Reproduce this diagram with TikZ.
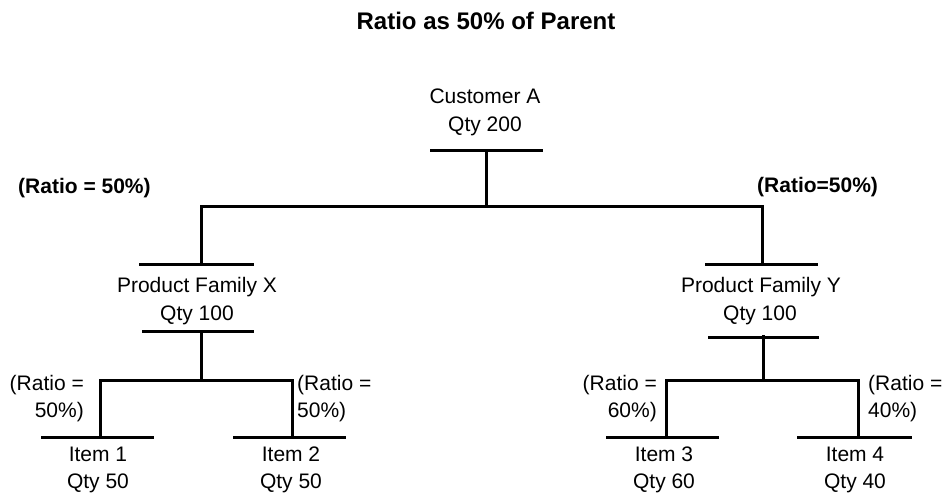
\documentclass[tikz,border=0pt]{standalone}
\usepackage{fontspec}
\setmainfont{Liberation Sans}
\begin{document}
\begin{tikzpicture}[x=1pt,y=-1pt,
  tree/.style={line width=3pt, line join=miter, line cap=butt},
  lbl/.style={inner sep=0pt, anchor=base, font=\fontsize{21}{25}\selectfont},
  ratioL/.style={inner sep=0pt, anchor=base east, font=\fontsize{21}{25}\selectfont},
  ratioR/.style={inner sep=0pt, anchor=base west, font=\fontsize{21}{25}\selectfont},
  ratiobold/.style={inner sep=0pt, anchor=base west, font=\fontsize{21}{25}\selectfont\bfseries},
  heading/.style={inner sep=0pt, anchor=base, font=\fontsize{24}{28}\selectfont\bfseries}]
\useasboundingbox (0,0) rectangle (945,493);

% Heading
\node[heading] (head) at (486,29) {Ratio as 50\% of Parent};

% ---- Customer A ----
\node[lbl] (custname) at (485,103) {Customer A};
\node[lbl] (custqty)  at (485,131) {Qty 200};
\coordinate (custbarL) at (430,150);
\coordinate (custbarR) at (543,150);
\coordinate (custstem) at (486,150);
\coordinate (split)    at (486,206);
\coordinate (splitL)   at (201,206);
\coordinate (splitR)   at (762,206);
\coordinate (pfxin)    at (201,264);
\coordinate (pfyin)    at (762,264);

\draw[tree] (custbarL) -- (custbarR);
\draw[tree] (custstem) -- (split);
\draw[tree] (pfxin) -- (splitL) -- (splitR) -- (pfyin);

\node[ratiobold] (rpfx) at (18,193)  {(Ratio = 50\%)};
\node[ratiobold] (rpfy) at (757,192) {(Ratio=50\%)};

% ---- Product Family X ----
\coordinate (pfxtopL) at (139,264);
\coordinate (pfxtopR) at (254,264);
\draw[tree] (pfxtopL) -- (pfxtopR);
\node[lbl] (pfxname) at (197,292) {Product Family X};
\node[lbl] (pfxqty)  at (197,320) {Qty 100};
\coordinate (pfxbotL) at (142,331);
\coordinate (pfxbotR) at (254,331);
\coordinate (pfxstem) at (201,331);
\coordinate (pfxsplit) at (201,380);
\coordinate (pfxsplitL) at (100,380);
\coordinate (pfxsplitR) at (292,380);
\coordinate (it1in) at (100,437);
\coordinate (it2in) at (292,437);
\draw[tree] (pfxbotL) -- (pfxbotR);
\draw[tree] (pfxstem) -- (pfxsplit);
\draw[tree] (it1in) -- (pfxsplitL) -- (pfxsplitR) -- (it2in);

\node[ratioL] (r1a) at (84,390) {(Ratio =};
\node[ratioL] (r1b) at (84,417) {50\%)};
\node[ratioR] (r2a) at (297,390) {(Ratio =};
\node[ratioR] (r2b) at (297,417) {50\%)};

% Item 1
\coordinate (it1L) at (41,437);
\coordinate (it1R) at (154,437);
\draw[tree] (it1L) -- (it1R);
\node[lbl] (it1name) at (98,461) {Item 1};
\node[lbl] (it1qty)  at (98,488) {Qty 50};

% Item 2
\coordinate (it2L) at (233,437);
\coordinate (it2R) at (346,437);
\draw[tree] (it2L) -- (it2R);
\node[lbl] (it2name) at (291,461) {Item 2};
\node[lbl] (it2qty)  at (291,488) {Qty 50};

% ---- Product Family Y ----
\coordinate (pfytopL) at (705,264);
\coordinate (pfytopR) at (818,264);
\draw[tree] (pfytopL) -- (pfytopR);
\node[lbl] (pfyname) at (761,292) {Product Family Y};
\node[lbl] (pfyqty)  at (760,320) {Qty 100};
\coordinate (pfybotL) at (708,337);
\coordinate (pfybotR) at (819,337);
\coordinate (pfystem) at (763,335);
\coordinate (pfysplit) at (763,380);
\coordinate (pfysplitL) at (666,380);
\coordinate (pfysplitR) at (858,380);
\coordinate (it3in) at (666,437);
\coordinate (it4in) at (858,437);
\draw[tree] (pfybotL) -- (pfybotR);
\draw[tree] (pfystem) -- (pfysplit);
\draw[tree] (it3in) -- (pfysplitL) -- (pfysplitR) -- (it4in);

\node[ratioL] (r3a) at (657,390) {(Ratio =};
\node[ratioL] (r3b) at (657,417) {60\%)};
\node[ratioR] (r4a) at (868,390) {(Ratio =};
\node[ratioR] (r4b) at (868,417) {40\%)};

% Item 3
\coordinate (it3L) at (606,437);
\coordinate (it3R) at (719,437);
\draw[tree] (it3L) -- (it3R);
\node[lbl] (it3name) at (664,461) {Item 3};
\node[lbl] (it3qty)  at (664,488) {Qty 60};

% Item 4
\coordinate (it4L) at (797,437);
\coordinate (it4R) at (912,437);
\draw[tree] (it4L) -- (it4R);
\node[lbl] (it4name) at (855,461) {Item 4};
\node[lbl] (it4qty)  at (855,488) {Qty 40};
\end{tikzpicture}
\end{document}
